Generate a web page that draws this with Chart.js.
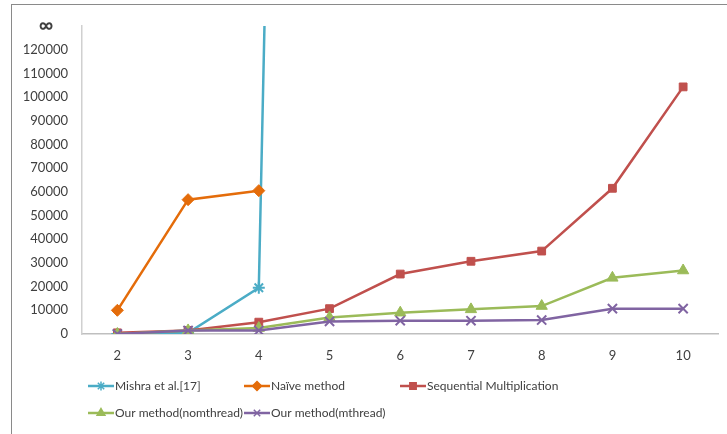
<!DOCTYPE html>
<html>
<head>
<meta charset="utf-8">
<script src="https://cdn.jsdelivr.net/npm/chart.js@4/dist/chart.umd.min.js"></script>
<style>
html,body{margin:0;padding:0;background:#fff;}
#wrap{position:relative;width:727px;height:434px;overflow:hidden;}
#frame{position:absolute;left:11px;top:4px;width:800px;height:500px;border:1px solid #8a8a8a;box-sizing:border-box;}
canvas{position:absolute;left:0;top:0;}
</style>
</head>
<body>
<div id="wrap">
<div id="frame"></div>
<canvas id="c" width="727" height="434"></canvas>
</div>
<script>
const xLabels = [2, 3, 4, 5, 6, 7, 8, 9, 10];
const yTicks = [0,10000,20000,30000,40000,50000,60000,70000,80000,90000,100000,110000,120000,130000];
const INF = 130000;
const seriesNames = ["Mishra et al.[17]", "Naïve method", "Sequential Multiplication", "Our method(nomthread)", "Our method(mthread)"];
const mishraX = [2, 3, 4, 4.08];
const mishraY = [0, 500, 19500, INF];
const naiveX = [2, 3, 4];
const naiveY = [10000, 56700, 60500];
const seqY = [500, 1500, 5000, 10700, 25300, 30700, 35000, 61500, 104300];
const nomthreadY = [0, 1500, 2500, 7000, 9000, 10400, 11800, 23700, 26800];
const mthreadY = [0, 1500, 1500, 5300, 5600, 5600, 5900, 10700, 10700];

const colors = ["#4bacc6", "#e46c0a", "#c0504d", "#9bbb59", "#8064a2"];
const styles = ["star", "rectRot", "rect", "triangle", "crossRot"];
const radii = [6, 6, 5.5, 6.5, 6.5];

function pts(xs, ys){ return ys.map((y,i)=>({x:xs[i], y:y})); }

const datasets = [
  {data: pts(mishraX, mishraY), pointRadius:[6,6,6,0]},
  {data: pts(naiveX, naiveY)},
  {data: pts(xLabels, seqY)},
  {data: pts(xLabels, nomthreadY)},
  {data: pts(xLabels, mthreadY)}
].map((d,i)=>Object.assign({
  label: seriesNames[i],
  borderColor: colors[i],
  backgroundColor: colors[i],
  pointBorderColor: colors[i],
  pointBackgroundColor: colors[i],
  borderWidth: 2.5,
  pointStyle: styles[i],
  pointRadius: radii[i],
  pointBorderWidth: (styles[i]==="star"||styles[i]==="crossRot") ? 2 : 1,
  tension: 0,
  order: 5 - i
}, d));

const FONT = "Lato, 'Open Sans', sans-serif";
const TEXT = "#404040";

const legendPlugin = {
  id: "customLegend",
  afterDraw(chart){
    const ctx = chart.ctx;
    const pos = [[88,386],[244,386],[400,386],[88,413],[244,413]];
    ctx.save();
    chart.data.datasets.forEach((ds,i)=>{
      const [x,y] = pos[i];
      ctx.strokeStyle = ds.borderColor;
      ctx.fillStyle = ds.borderColor;
      ctx.lineWidth = 2.5;
      ctx.beginPath(); ctx.moveTo(x,y); ctx.lineTo(x+26,y); ctx.stroke();
      ctx.lineWidth = 1.5;
      Chart.helpers.drawPoint(ctx, {pointStyle: ds.pointStyle, radius: 4.5, rotation: 0, borderWidth: 1.5}, x+13, y);
      ctx.fillStyle = TEXT;
      ctx.font = "12px " + FONT;
      ctx.textBaseline = "middle";
      ctx.textAlign = "left";
      ctx.fillText(ds.label, x+27, y);
    });
    ctx.restore();
  }
};

new Chart(document.getElementById("c"), {
  type: "line",
  data: { datasets },
  options: {
    responsive: false,
    animation: false,
    devicePixelRatio: 1,
    layout: { padding: { left: 0, top: 22, right: 4, bottom: 70 } },
    plugins: { legend: { display: false }, tooltip: { enabled: false } },
    scales: {
      x: {
        type: "linear",
        min: 1.5, max: 10.5,
        afterBuildTicks(axis){ axis.ticks = xLabels.map(v=>({value:v})); },
        afterFit(axis){ axis.height = 30; },
        grid: { display: false, drawTicks: false },
        border: { display: true, color: "#bfbfbf", width: 1.5 },
        ticks: { color: TEXT, font: { family: FONT, size: 13 }, padding: 14, autoSkip: false, maxRotation: 0,
                 callback: v => String(v) }
      },
      y: {
        min: 0, max: INF,
        afterBuildTicks(axis){ axis.ticks = yTicks.map(v=>({value:v})); },
        afterFit(axis){ axis.width = 82; },
        grid: { display: false, drawTicks: false },
        border: { display: true, color: "#d0d0d0", width: 1.5 },
        ticks: {
          color: TEXT,
          padding: 14,
          autoSkip: false,
          font: (c) => (c.tick && c.tick.value === INF) ? { family: FONT, size: 20, weight: "bold" } : { family: FONT, size: 13 },
          callback: v => v === INF ? "∞   " : String(v)
        }
      }
    }
  },
  plugins: [legendPlugin]
});
</script>
</body>
</html>
